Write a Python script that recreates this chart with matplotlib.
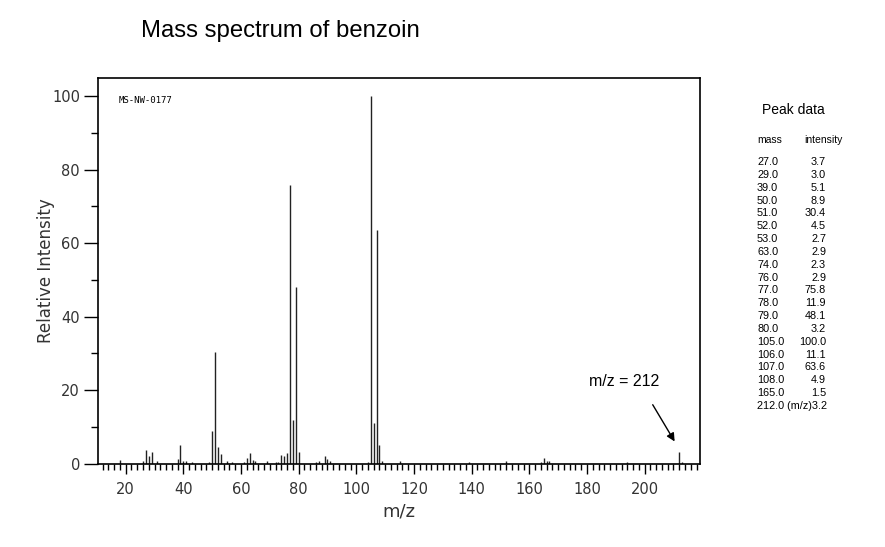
import numpy as np
import matplotlib.pyplot as plt
from matplotlib.ticker import MultipleLocator

# peaks listed in the side table
table_mass      = [27, 29, 39, 50, 51, 52, 53, 63, 74, 76, 77, 78, 79, 80,
                   105, 106, 107, 108, 165, 212]
table_intensity = [3.7, 3.0, 5.1, 8.9, 30.4, 4.5, 2.7, 2.9, 2.3, 2.9, 75.8, 11.9,
                   48.1, 3.2, 100.0, 11.1, 63.6, 4.9, 1.5, 3.2]

# small peaks (not in the table)
minor_mass      = [18, 26, 28, 31, 38, 40, 41, 43, 49, 55, 57, 61, 62, 64, 65, 69,
                   72, 73, 75, 86, 87, 89, 90, 91, 104, 109, 115, 139, 152, 164,
                   166, 167, 194, 213]
minor_intensity = [0.9, 0.6, 2.1, 0.6, 1.1, 0.6, 0.6, 0.4, 0.4, 0.6, 0.4, 0.4, 1.4,
                   0.9, 0.7, 0.6, 0.4, 0.4, 2.1, 0.4, 0.6, 2.0, 1.2, 0.7, 0.4, 0.8,
                   0.8, 0.5, 0.8, 0.5, 0.8, 0.6, 0.5, 0.5]

mass      = np.array(table_mass + minor_mass)
intensity = np.array(table_intensity + minor_intensity)

fig = plt.figure(figsize=(8.85, 5.47), dpi=100)
ax  = fig.add_axes([98 / 885, 1 - 463.5 / 547, 602 / 885, 385 / 547])

ax.vlines(mass, 0, intensity, color='#222222', linewidth=1.0)

ax.set_xlim(10.4, 219.2)
ax.set_ylim(0, 104.8)

ax.spines['bottom'].set_position(('data', 0))
for s in ax.spines.values():
    s.set_linewidth(1.2)

ax.xaxis.set_major_locator(MultipleLocator(20))
ax.xaxis.set_minor_locator(MultipleLocator(2))
ax.yaxis.set_major_locator(MultipleLocator(20))
ax.yaxis.set_minor_locator(MultipleLocator(10))
ax.set_xticks([t for t in range(20, 220, 20)])
ax.tick_params(axis='x', which='major', direction='out', length=7, width=1, labelsize=10.5,
               labelcolor='#333333', pad=6)
ax.tick_params(axis='x', which='minor', direction='out', length=4, width=1)
ax.tick_params(axis='y', which='major', direction='out', length=10, width=1, labelsize=10.5,
               labelcolor='#333333', pad=3)
ax.tick_params(axis='y', which='minor', direction='out', length=5, width=1)

ax.set_xlabel('m/z', fontsize=13, color='#333333', labelpad=4)
ax.set_ylabel('Relative Intensity', fontsize=12, color='#333333', labelpad=-2)

ax.text(0.035, 0.955, 'MS-NW-0177', transform=ax.transAxes, family='DejaVu Sans Mono',
        fontsize=6.5, va='top', ha='left')

# label and arrow pointing at the molecular ion
ax.text(193, 22.3, 'm/z = 212', fontsize=11.5, family='Liberation Sans',
        ha='center', va='center')
ax.annotate('', xy=(210.4, 6.0), xytext=(202.8, 16.0),
            arrowprops=dict(arrowstyle='-|>', color='black', lw=1.0,
                            shrinkA=0, shrinkB=0, mutation_scale=12))

fig.text(141 / 885, 1 - 31.5 / 547, 'Mass spectrum of benzoin', family='Liberation Sans',
         fontsize=17.2, ha='left', va='center')

# side table with peak data
fig.text(793 / 885, 1 - 110 / 547, 'Peak data', family='Liberation Sans',
         fontsize=10, ha='center', va='center')
fig.text(757 / 885, 1 - 140 / 547, 'mass', family='Liberation Sans', fontsize=7.5,
         ha='left', va='center')
fig.text(843 / 885, 1 - 140 / 547, 'intensity', family='Liberation Sans', fontsize=7.5,
         ha='right', va='center')

row_y = 162
for m, v in zip(table_mass, table_intensity):
    y = 1 - row_y / 547
    if m == 212:
        fig.text(757 / 885, y, '{:.1f} (m/z){:.1f}'.format(m, v), family='Liberation Sans',
                 fontsize=7.8, ha='left', va='center')
    else:
        fig.text(757 / 885, y, '{:.1f}'.format(m), family='Liberation Sans',
                 fontsize=7.8, ha='left', va='center')
        fig.text(826 / 885, y, '{:.1f}'.format(v), family='Liberation Sans',
                 fontsize=7.8, ha='right', va='center')
    row_y += 12.84

fig.savefig('out.png', dpi=100)
